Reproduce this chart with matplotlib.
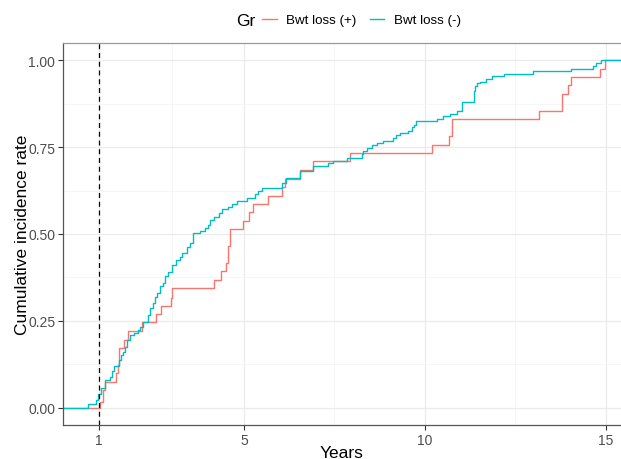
import numpy as np
import matplotlib
matplotlib.use('Agg')
import matplotlib.pyplot as plt

plt.rcParams['font.family'] = ['Liberation Sans', 'DejaVu Sans']

# cumulative incidence, Bwt loss (+)
red_t = [0, 1.01, 1.10, 1.17, 1.47, 1.51, 1.56, 1.69, 1.81, 2.18, 2.57, 2.71, 2.98, 3.01,
         4.16, 4.36, 4.50, 4.57, 4.62, 4.97, 5.15, 5.26, 5.66, 6.06, 6.14, 6.55, 6.92,
         7.93, 10.19, 10.66, 10.75, 13.16, 13.80, 13.96, 14.04, 14.84, 14.98, 15.5]
red_y = [0, 0.017, 0.051, 0.075, 0.099, 0.123, 0.171, 0.195, 0.221, 0.246, 0.270, 0.293,
         0.315, 0.344, 0.368, 0.393, 0.416, 0.465, 0.514, 0.538, 0.562, 0.586, 0.610,
         0.635, 0.659, 0.683, 0.709, 0.733, 0.757, 0.781, 0.831, 0.855, 0.903, 0.928,
         0.952, 0.976, 1.0, 1.0]

# cumulative incidence, Bwt loss (-)
cyan_t = [0, 0.70, 0.92, 0.96, 1.05, 1.17, 1.30, 1.35, 1.41, 1.56, 1.60, 1.67, 1.72, 1.77,
          1.86, 1.95, 2.06, 2.13, 2.22, 2.36, 2.41, 2.48, 2.55, 2.61, 2.69, 2.76, 2.82,
          2.91, 3.01, 3.13, 3.22, 3.28, 3.42, 3.51, 3.60, 3.79, 3.93, 4.02, 4.07, 4.16,
          4.30, 4.39, 4.57, 4.67, 4.80, 5.08, 5.31, 5.40, 5.49, 6.05, 6.17, 6.55, 6.92,
          7.33, 7.47, 7.86, 8.26, 8.30, 8.40, 8.53, 8.67, 8.83, 9.11, 9.20, 9.31, 9.54,
          9.64, 9.70, 9.76, 10.33, 10.49, 10.70, 10.90, 11.02, 11.36, 11.39, 11.43, 11.52,
          11.68, 11.85, 12.19, 13.00, 14.03, 14.64, 14.73, 14.86, 15.5]
cyan_y = [0, 0.010, 0.022, 0.038, 0.056, 0.080, 0.089, 0.105, 0.121, 0.137, 0.152, 0.161,
          0.176, 0.195, 0.209, 0.214, 0.224, 0.233, 0.248, 0.267, 0.286, 0.301, 0.320,
          0.329, 0.349, 0.358, 0.378, 0.392, 0.411, 0.425, 0.435, 0.445, 0.464, 0.473,
          0.502, 0.509, 0.517, 0.526, 0.541, 0.550, 0.560, 0.572, 0.579, 0.586, 0.595,
          0.605, 0.615, 0.624, 0.632, 0.646, 0.661, 0.680, 0.695, 0.704, 0.711, 0.718,
          0.731, 0.738, 0.747, 0.755, 0.761, 0.767, 0.776, 0.784, 0.790, 0.797, 0.807,
          0.814, 0.824, 0.831, 0.839, 0.845, 0.855, 0.880, 0.911, 0.925, 0.935, 0.939,
          0.947, 0.954, 0.961, 0.968, 0.976, 0.983, 0.992, 1.0, 1.0]

labels = ['Bwt loss (+)', 'Bwt loss (-)']
colors = ['#F8766D', '#00BFC4']
x_ticks = [1, 5, 10, 15]
x_minor = [3, 7.5, 12.5]
y_ticks = [0, 0.25, 0.5, 0.75, 1.0]
y_minor = [0.125, 0.375, 0.625, 0.875]
landmark = 1

fig = plt.figure(figsize=(6.21, 4.6), dpi=100)
ax = fig.add_axes([63/621, 1-426/460, 1-63/621, (426-44)/460])

ax.set_xticks(x_ticks)
ax.set_xticks(x_minor, minor=True)
ax.set_yticks(y_ticks)
ax.set_yticks(y_minor, minor=True)
ax.set_yticklabels(['%.2f' % v for v in y_ticks])
ax.grid(which='major', color='#EBEBEB', lw=0.9)
ax.grid(which='minor', color='#F3F3F3', lw=0.5)
ax.set_axisbelow(True)

l1, = ax.step(red_t, red_y, where='post', color=colors[0], lw=1.0, label=labels[0])
l2, = ax.step(cyan_t, cyan_y, where='post', color=colors[1], lw=1.0, label=labels[1])
ax.axvline(landmark, color='black', ls=(0, (4, 3)), lw=0.9)

ax.set_xlim(0, 15.42)
ax.set_ylim(-0.05, 1.05)

for s in ['left', 'bottom']:
    ax.spines[s].set_color('#555555')
    ax.spines[s].set_linewidth(0.9)
ax.spines['top'].set_color('#9a9a9a')
ax.spines['top'].set_linewidth(0.9)
ax.spines['right'].set_visible(False)
ax.tick_params(which='major', length=3.5, width=0.8, color='#333333',
               labelsize=10, labelcolor='#4D4D4D', pad=2)
ax.tick_params(which='minor', length=0)

ax.set_xlabel('Years', fontsize=12.5, labelpad=-1)
ax.set_ylabel('Cumulative incidence rate', fontsize=12.5, labelpad=-1)

fig.text(236/621, 1-21/460, 'Gr', fontsize=12.5, va='center', ha='left')
fig.legend(handles=[l1, l2], labels=labels, loc='center left',
           bbox_to_anchor=(262/621, 1-21/460), ncol=2, frameon=False,
           fontsize=9.6, handlelength=1.1, handletextpad=0.7, columnspacing=1.0,
           borderpad=0, borderaxespad=0)

fig.savefig('out.png', dpi=100)
